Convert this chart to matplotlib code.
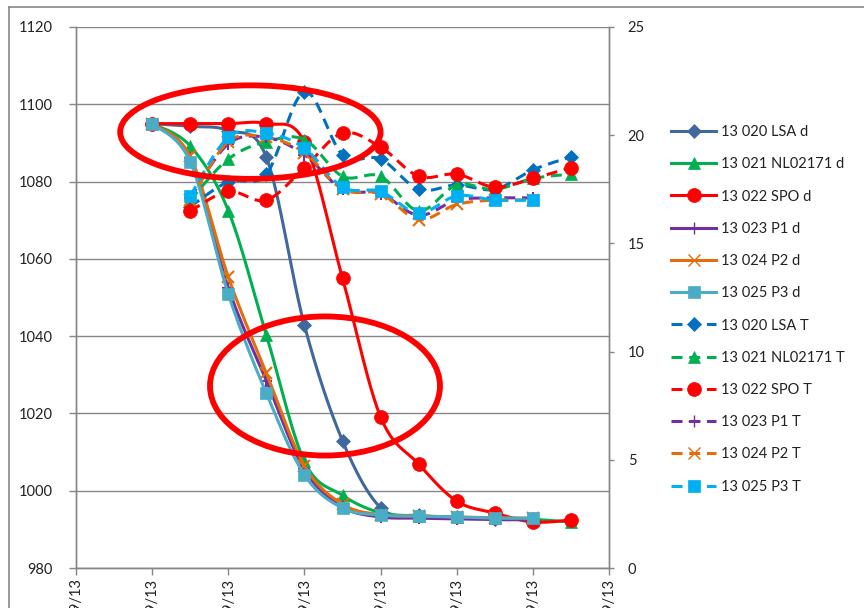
import numpy as np
import matplotlib
matplotlib.use("Agg")
import matplotlib.pyplot as plt
from matplotlib.lines import Line2D
from matplotlib.patches import Ellipse

plt.rcParams['font.family'] = ['Lato', 'DejaVu Sans']

# sample times (days from start of the run) and x tick labels
days_d = [1.0, 1.5, 2.0, 2.5, 3.0, 3.5, 4.0, 4.5, 5.0, 5.5, 6.0, 6.5]
tick_days = [0, 1, 2, 3, 4, 5, 6, 7]
tick_labels = ["09/09/13", "10/09/13", "11/09/13", "12/09/13",
               "13/09/13", "14/09/13", "15/09/13", "16/09/13"]

# density readings (left axis)
lsa_d = [1095, 1094.3, 1093.2, 1086.3, 1042.8, 1012.9, 995.6, 993.6, 993.1, 992.8, 992.6]
nl_d = [1095, 1089.2, 1072.5, 1040.3, 1007.6, 998.8, 994.3, 993.5, 993.1, 992.9, 992.6, 991.9]
spo_d = [1095, 1095, 1095, 1095, 1090.2, 1055.0, 1019.1, 1006.9, 997.3, 994.2, 991.9, 992.4]
p1_d = [1095, 1086.0, 1052.5, 1028.5, 1005.5, 995.8, 993.2, 992.9, 992.7, 992.5, 992.5]
p2_d = [1095, 1086.5, 1055.3, 1030.4, 1006.5, 996.5, 993.8, 993.5, 993.2, 993.0, 992.9]
p3_d = [1095, 1085.1, 1050.9, 1025.2, 1004.1, 995.5, 993.7, 993.4, 993.2, 992.9, 992.9]

# temperature readings (right axis), starting half a day later
days_t = [1.5, 2.0, 2.5, 3.0, 3.5, 4.0, 4.5, 5.0, 5.5, 6.0, 6.5]
lsa_t = [16.7, 17.85, 18.2, 22.0, 19.1, 18.9, 17.5, 17.7, 17.5, 18.4, 19.0]
nl_t = [17.0, 18.9, 19.7, 19.8, 18.1, 18.1, 16.5, 17.7, 17.5, 18.0, 18.2]
spo_t = [16.5, 17.4, 17.0, 18.5, 20.1, 19.45, 18.1, 18.2, 17.6, 18.0, 18.5]
p1_t = [17.1, 19.6, 19.9, 19.1, 17.5, 17.3, 16.3, 17.0, 17.1, 17.1]
p2_t = [17.0, 19.7, 19.9, 19.2, 17.5, 17.3, 16.1, 16.8, 17.0, 17.0]
p3_t = [17.2, 19.9, 20.1, 19.4, 17.6, 17.4, 16.4, 17.2, 17.0, 17.0]

STEPS = 24


def smooth(x, y):
    # Bezier smoothing through every point (like a spreadsheet "smoothed line")
    x = np.asarray(x, float)
    y = np.asarray(y, float)
    n = len(x)
    px, py = [x[0]], [y[0]]
    t = np.linspace(0, 1, STEPS + 1)[1:]
    for i in range(n - 1):
        i0, i3 = max(i - 1, 0), min(i + 2, n - 1)
        c1x = x[i] + (x[i + 1] - x[i0]) / 6
        c1y = y[i] + (y[i + 1] - y[i0]) / 6
        c2x = x[i + 1] - (x[i3] - x[i]) / 6
        c2y = y[i + 1] - (y[i3] - y[i]) / 6
        a, b, c, d = (1 - t) ** 3, 3 * (1 - t) ** 2 * t, 3 * (1 - t) * t ** 2, t ** 3
        px.extend(a * x[i] + b * c1x + c * c2x + d * x[i + 1])
        py.extend(a * y[i] + b * c1y + c * c2y + d * y[i + 1])
    return np.array(px), np.array(py)


fig = plt.figure(figsize=(8.64, 6.08), dpi=100)
ax = fig.add_axes([76 / 864, 1 - 568 / 608, 533 / 864, 541 / 608])
ax2 = ax.twinx()

grey = "#868686"
dash = (0, (3.6, 2.2))

d_series = [
    ("13 020 LSA d", lsa_d, "#41689E", "D", 7.5),
    ("13 021 NL02171 d", nl_d, "#00B050", "^", 9),
    ("13 022 SPO d", spo_d, "#FF0000", "o", 10),
    ("13 023 P1 d", p1_d, "#7030A0", "+", 9),
    ("13 024 P2 d", p2_d, "#E46C0A", "x", 8),
    ("13 025 P3 d", p3_d, "#4BACC6", "s", 9),
]
t_series = [
    ("13 020 LSA T", lsa_t, "#0070C0", "D", 7.5),
    ("13 021 NL02171 T", nl_t, "#00B050", "^", 9),
    ("13 022 SPO T", spo_t, "#FF0000", "o", 10),
    ("13 023 P1 T", p1_t, "#7030A0", "+", 9),
    ("13 024 P2 T", p2_t, "#E46C0A", "x", 8),
    ("13 025 P3 T", p3_t, "#00B0F0", "s", 9),
]

handles = []
for label, vals, col, mk, ms in d_series:
    sx, sy = smooth(days_d[:len(vals)], vals)
    ax.plot(sx, sy, color=col, lw=2.2, marker=mk, ms=ms, markevery=STEPS,
            mew=1.5 if mk in "+x" else 0.5, mec=col, mfc=col, solid_capstyle="round")
    handles.append(Line2D([], [], color=col, lw=2.2, marker=mk, ms=ms,
                          mew=1 if mk in "+x" else 0.5, mfc=col, mec=col))

for label, vals, col, mk, ms in t_series:
    sx, sy = smooth(days_t[:len(vals)], vals)
    ax2.plot(sx, sy, color=col, lw=2.2, ls=dash, marker=mk, ms=ms, markevery=STEPS,
             mew=1.5 if mk in "+x" else 0.5, mec=col, mfc=col)
    handles.append(Line2D([], [], color=col, lw=2.2, ls=dash, marker=mk, ms=ms,
                          mew=1 if mk in "+x" else 0.5, mfc=col, mec=col))

ax.set_xlim(0, 7)
ax.set_ylim(980, 1120)
ax.set_yticks(range(980, 1121, 20))
ax2.set_ylim(0, 25)
ax2.set_yticks(range(0, 26, 5))
ax.set_xticks(tick_days)
ax.set_xticklabels(tick_labels, rotation=90, va="top", ha="center")

ax.grid(axis="y", color=grey, lw=1)
ax.set_axisbelow(True)
for a in (ax, ax2):
    a.spines["top"].set_visible(False)
    for s in ("left", "right", "bottom"):
        a.spines[s].set_color(grey)
        a.spines[s].set_linewidth(1)
    a.tick_params(colors=grey, labelcolor="#222222", labelsize=10.5,
                  length=5, width=1, direction="out")
ax.tick_params(axis="x", pad=2)
ax.tick_params(axis="y", pad=12)
ax2.tick_params(axis="y", length=3.5, pad=10)

# highlight rings
ring_top = Ellipse((2.29, 1092.8), 3.42, 24.2, fill=False, ec="#FF0000", lw=4.2,
                   transform=ax.transData, zorder=20, clip_on=False)
ring_low = Ellipse((3.27, 1027.1), 3.02, 36.0, fill=False, ec="#FF0000", lw=4.2,
                   transform=ax.transData, zorder=20, clip_on=False)
ax2.add_patch(ring_top)
ax2.add_patch(ring_low)

fig.legend(handles, [s[0] for s in d_series + t_series], loc="upper left",
           bbox_to_anchor=(658 / 864, 1 - 112 / 608), frameon=False,
           fontsize=10.5, handlelength=3.1, labelspacing=1.25, handletextpad=0.3,
           labelcolor="#222222")

# outer chart frame
fig.add_artist(Line2D([9 / 864, 9 / 864], [0, 1 - 7 / 608], color=grey, lw=1.2,
                      transform=fig.transFigure))
fig.add_artist(Line2D([9 / 864, 1], [1 - 7 / 608, 1 - 7 / 608], color=grey, lw=1.2,
                      transform=fig.transFigure))

fig.savefig("out.png", dpi=100)
